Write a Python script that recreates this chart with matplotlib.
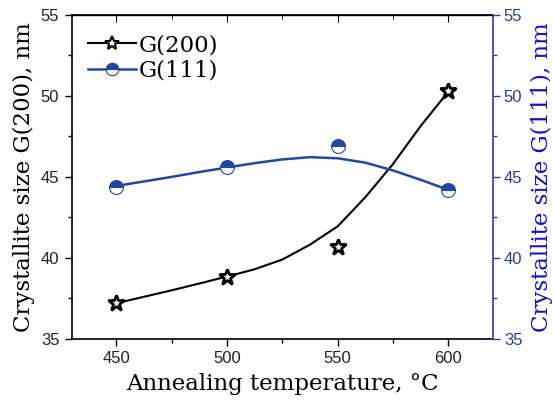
import matplotlib
matplotlib.use("Agg")
import matplotlib.pyplot as plt

# measured points
temps = [450, 500, 550, 600]
g200 = [37.2, 38.8, 40.7, 50.3]
g111 = [44.4, 45.6, 46.9, 44.2]

# smooth guide curves
curve_t = [450, 462.5, 475, 487.5, 500, 512.5, 525, 537.5, 550, 562.5, 575, 587.5, 600]
curve200 = [37.2, 37.6, 38.0, 38.42, 38.85, 39.3, 39.9, 40.82, 41.95, 43.75, 45.8, 48.15, 50.27]
curve111 = [44.44, 44.72, 45.0, 45.3, 45.58, 45.85, 46.08, 46.22, 46.15, 45.88, 45.4, 44.82, 44.2]

blue = "#2346a0"
tick_blue = "#2b3f8f"
label_blue = "#1010c8"
serif = "DejaVu Serif"
sans = "Liberation Sans"

fig = plt.figure(figsize=(5.53, 4.03), dpi=100)
ax = fig.add_axes([0.130, 0.159, 0.761, 0.804])
ax2 = ax.twinx()

# black series on the left axis
ax.plot(curve_t, curve200, color="black", lw=1.5, zorder=3)
ax.plot(temps, g200, ls="none", marker="*", ms=12, mfc="white", mec="black", mew=2.0, zorder=4)

# blue series on the right axis
ax2.plot(curve_t, curve111, color=blue, lw=1.8, zorder=3)
ax2.plot(temps, g111, ls="none", marker="o", ms=10, fillstyle="top",
         mfc=blue, mfcalt="white", mec=blue, mew=0.8, zorder=4)

ax.set_xlim(430, 620)
ax.set_ylim(35, 55)
ax2.set_ylim(35, 55)
ax.set_xticks([450, 500, 550, 600])
ax.set_xticks([475, 525, 575], minor=True)
ax.set_yticks([35, 40, 45, 50, 55])
ax.set_yticks([37.5, 42.5, 47.5, 52.5], minor=True)
ax2.set_yticks([35, 40, 45, 50, 55])
ax2.set_yticks([37.5, 42.5, 47.5, 52.5], minor=True)

for lab in ax.get_xticklabels() + ax.get_yticklabels():
    lab.set_fontfamily(sans)
    lab.set_fontsize(12)
    lab.set_color("#222222")
for lab in ax2.get_yticklabels():
    lab.set_fontfamily(sans)
    lab.set_fontsize(12)
    lab.set_color(tick_blue)

ax.tick_params(which="major", direction="out", length=5, width=1.0, pad=4)
ax.tick_params(which="minor", direction="out", length=3, width=1.0)
ax2.tick_params(which="major", direction="out", length=5, width=1.0, colors=tick_blue, pad=3)
ax2.tick_params(which="minor", direction="out", length=3, width=1.0, colors=tick_blue)

# top ticks point inward
top = ax.secondary_xaxis("top")
top.set_xticks([450, 500, 550, 600])
top.set_xticks([475, 525, 575], minor=True)
top.tick_params(which="major", direction="in", length=5, labeltop=False)
top.tick_params(which="minor", direction="in", length=3)
top.spines["top"].set_linewidth(1.0)

for s in ["left", "bottom", "top"]:
    ax.spines[s].set_linewidth(1.2)
ax.spines["right"].set_visible(False)
ax2.spines["left"].set_visible(False)
ax2.spines["top"].set_visible(False)
ax2.spines["bottom"].set_visible(False)
ax2.spines["right"].set_color(tick_blue)
ax2.spines["right"].set_linewidth(1.2)

ax.set_xlabel("Annealing temperature, °C", fontfamily=serif, fontsize=16.5, labelpad=5)
ax.set_ylabel("Crystallite size G(200), nm", fontfamily=serif, fontsize=16.5, labelpad=4)
ax2.set_ylabel("Crystallite size G(111), nm", fontfamily=serif, fontsize=16.5,
               color=label_blue, labelpad=6)

# legend with both series
h1, = ax.plot([], [], color="black", lw=1.5, marker="*", ms=10, mfc="white", mec="black", mew=1.5)
h2, = ax.plot([], [], color=blue, lw=1.8, marker="o", ms=9, fillstyle="top",
              mfc=blue, mfcalt="white", mec=blue, mew=0.8)
leg = ax.legend([h1, h2], ["G(200)", "G(111)"], loc="upper left", frameon=False,
                prop={"family": serif, "size": 16.5}, handlelength=2.1, handletextpad=0.1,
                labelspacing=0.15, borderaxespad=0.3, bbox_to_anchor=(0.0, 0.99))

fig.savefig("out.png", dpi=100)
